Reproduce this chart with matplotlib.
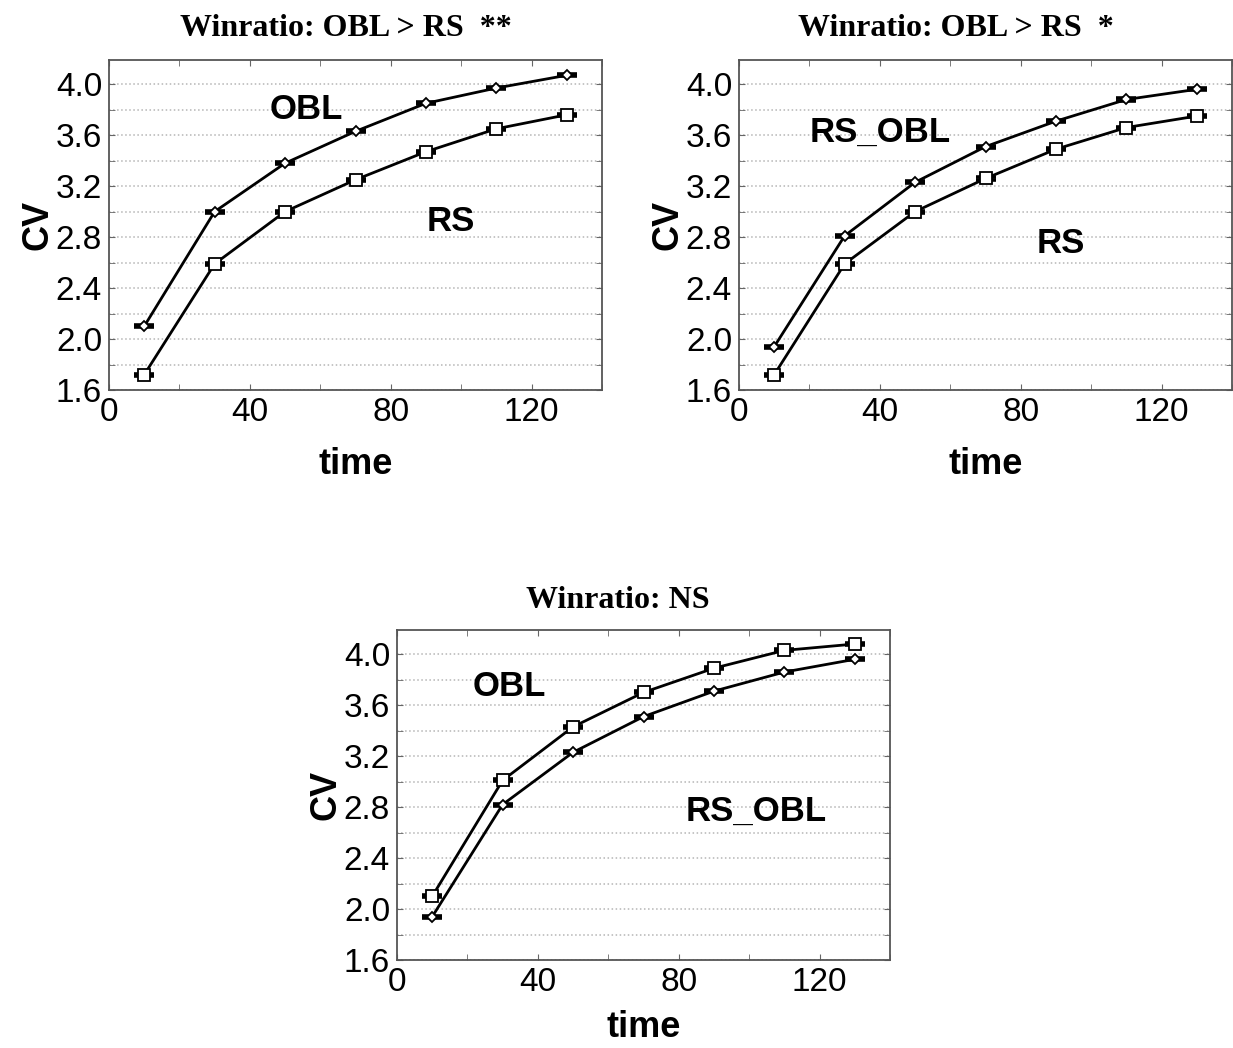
import matplotlib.pyplot as plt
import numpy as np

# data -----------------------------------------------------------
time = [10, 30, 50, 70, 90, 110, 130]

# panel 1: OBL vs RS
p1_obl = [2.10, 3.00, 3.38, 3.63, 3.85, 3.97, 4.07]
p1_rs = [1.72, 2.59, 3.00, 3.25, 3.47, 3.65, 3.76]

# panel 2: RS_OBL vs RS
p2_rsobl = [1.94, 2.81, 3.23, 3.51, 3.71, 3.88, 3.96]
p2_rs = [1.72, 2.59, 3.00, 3.26, 3.49, 3.66, 3.75]

# panel 3: OBL vs RS_OBL
p3_obl = [2.10, 3.01, 3.43, 3.70, 3.89, 4.03, 4.08]
p3_rsobl = [1.94, 2.82, 3.23, 3.51, 3.71, 3.86, 3.96]

titles = ['Winratio: OBL > RS  **', 'Winratio: OBL > RS  *', 'Winratio: NS']

plt.rcParams['font.family'] = ['Liberation Sans', 'DejaVu Sans']

fig = plt.figure(figsize=(12.33, 10.48), dpi=100)
W, H = 1233.0, 1048.0

def make_axes(left_px, bottom_px):
    return fig.add_axes([left_px / W, (H - bottom_px) / H, 493 / W, 330 / H])

def series(ax, y, marker, ms):
    # small error bars drawn as wide caps, then the open marker on top
    ax.errorbar(time, y, yerr=0.008, fmt='none', ecolor='black',
                elinewidth=1, capsize=7, capthick=2.6, zorder=3)
    ax.plot(time, y, color='black', lw=2, marker=marker, ms=ms,
            mfc='white', mec='black', mew=1.3, zorder=4)

def style(ax, xpad=14):
    ax.set_xlim(0, 140)
    ax.set_ylim(1.6, 4.19)
    ax.set_xticks([0, 40, 80, 120])
    ax.set_xticks(np.arange(0, 141, 20), minor=True)
    ax.set_yticks(np.arange(1.6, 4.01, 0.4))
    ax.set_yticks(np.arange(1.6, 4.2, 0.2), minor=True)
    ax.set_yticklabels(['%.1f' % v for v in np.arange(1.6, 4.01, 0.4)])
    ax.grid(axis='y', which='both', linestyle=':', color='#b5b5b5', lw=1.1)
    ax.tick_params(which='both', direction='in', top=True, right=True,
                   color='#666666', labelsize=24)
    ax.tick_params(which='major', length=4, pad=5)
    ax.tick_params(which='minor', length=4)
    for s in ax.spines.values():
        s.set_color('#555555')
        s.set_linewidth(1.3)
    ax.set_xlabel('time', fontsize=26, fontweight='bold', labelpad=xpad)
    ax.set_ylabel('CV', fontsize=26, fontweight='bold', labelpad=0)

def label(ax, x, y, txt):
    ax.text(x, y, txt, fontsize=25, fontweight='bold', ha='center', va='center')

def title(x_px, y_px, txt):
    fig.text(x_px / W, (H - y_px) / H, txt, fontsize=23, fontweight='bold',
             family=['Liberation Serif', 'DejaVu Serif'], ha='center', va='center')

# panel 1
ax1 = make_axes(109, 390)
series(ax1, p1_obl, 'D', 5)
series(ax1, p1_rs, 's', 8.5)
style(ax1)
label(ax1, 56, 3.80, 'OBL')
label(ax1, 97, 2.92, 'RS')
title(346, 29, titles[0])

# panel 2
ax2 = make_axes(739, 390)
series(ax2, p2_rsobl, 'D', 5)
series(ax2, p2_rs, 's', 8.5)
style(ax2)
label(ax2, 40, 3.62, 'RS_OBL')
label(ax2, 91.5, 2.75, 'RS')
title(956, 29, titles[1])

# panel 3
ax3 = make_axes(397, 960)
series(ax3, p3_obl, 's', 8.5)
series(ax3, p3_rsobl, 'D', 5)
style(ax3, xpad=9)
label(ax3, 32, 3.75, 'OBL')
label(ax3, 102, 2.77, 'RS_OBL')
title(618, 600, titles[2])

fig.savefig('out.png', dpi=100)
